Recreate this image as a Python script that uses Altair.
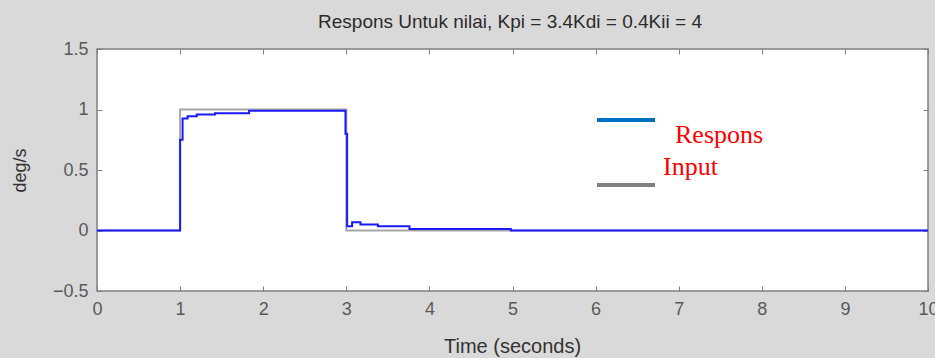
import altair as alt
import pandas as pd

# Data
resp_t = [0.0, 1.0, 1.03, 1.09, 1.2, 1.42, 1.83, 2.99, 3.01, 3.07, 3.17, 3.38, 3.76, 4.98, 10.0]
resp_y = [0.0, 0.75, 0.925, 0.945, 0.958, 0.97, 0.99, 0.8, 0.035, 0.068, 0.05, 0.035, 0.013, 0.0, 0.0]
inp_t = [0.0, 1.0, 3.0, 10.0]
inp_y = [0.0, 1.0, 0.0, 0.0]
x_ticks = [0, 1, 2, 3, 4, 5, 6, 7, 8, 9, 10]
y_ticks = [-0.5, 0, 0.5, 1, 1.5]
legend_labels = ["Respons", "Input"]
title_text = "Respons Untuk nilai, Kpi = 3.4Kdi = 0.4Kii = 4"

resp = pd.DataFrame({"t": resp_t, "y": resp_y})
inp = pd.DataFrame({"t": inp_t, "y": inp_y})
leg = pd.DataFrame({"label": legend_labels})
ttl = pd.DataFrame({"title": [title_text]})

FONT = "Liberation Sans"
xs = alt.Scale(domain=[0, 10], nice=False, zero=False)
ys = alt.Scale(domain=[-0.5, 1.5], nice=False, zero=False)

xaxis = alt.Axis(values=x_ticks, domain=False, grid=False, offset=-5, tickSize=5,
                 tickColor="#808080", labelPadding=9, labelFont=FONT, labelFontSize=18,
                 labelColor="#595959", title="Time (seconds)", titleFont=FONT,
                 titleFontSize=20, titleFontWeight="normal", titleColor="#333333",
                 titleX=415, titleY=66, titleBaseline="alphabetic", titleAlign="center",
                 labelFlush=False)
yaxis = alt.Axis(values=y_ticks, format="~g", domain=False, grid=False, offset=-5, tickSize=5,
                 tickColor="#808080", labelPadding=9, labelFont=FONT, labelFontSize=18,
                 labelColor="#595959", title="deg/s", titleFont=FONT, titleFontSize=18,
                 titleFontWeight="normal", titleColor="#333333", titleX=-82, titleY=121,
                 titleAlign="center", titleBaseline="middle", labelFlush=False)

inp_line = alt.Chart(inp).mark_line(interpolate="step-after", color="#a6a6a6", strokeWidth=2).encode(
    x=alt.X("t:Q", scale=xs, axis=xaxis),
    y=alt.Y("y:Q", scale=ys, axis=yaxis),
)

resp_line = alt.Chart(resp).mark_line(interpolate="step-after", color="#1a1aff", strokeWidth=2).encode(
    x=alt.X("t:Q", scale=xs, axis=None),
    y=alt.Y("y:Q", scale=ys, axis=None),
)

top_axes = alt.Chart(inp).mark_line(opacity=0).encode(
    x=alt.X("t:Q", scale=xs, axis=alt.Axis(orient="top", values=x_ticks, labels=False, title=None,
                                           domain=False, grid=False, offset=-5, tickSize=5,
                                           tickColor="#808080")),
    y=alt.Y("y:Q", scale=ys, axis=alt.Axis(orient="right", values=y_ticks, labels=False, title=None,
                                           domain=False, grid=False, offset=-5, tickSize=5,
                                           tickColor="#808080")),
)

one = alt.Data(values=[{}])
leg_blue = alt.Chart(one).mark_rule(color="#0070c0", strokeWidth=4).encode(
    x=alt.value(500), x2=alt.value(558), y=alt.value(71))
leg_grey = alt.Chart(one).mark_rule(color="#808080", strokeWidth=4).encode(
    x=alt.value(500), x2=alt.value(558), y=alt.value(136))

txt_resp = alt.Chart(leg).transform_filter(alt.datum.label == legend_labels[0]).mark_text(
    font="Liberation Serif", fontSize=26, color="#ff0000", align="left", baseline="alphabetic").encode(
    x=alt.value(578), y=alt.value(94), text="label:N")
txt_inp = alt.Chart(leg).transform_filter(alt.datum.label == legend_labels[1]).mark_text(
    font="Liberation Serif", fontSize=26, color="#ff0000", align="left", baseline="alphabetic").encode(
    x=alt.value(566), y=alt.value(126), text="label:N")

txt_title = alt.Chart(ttl).mark_text(
    font=FONT, fontSize=19, color="#2b2b2b", align="center", baseline="alphabetic").encode(
    x=alt.value(413), y=alt.value(-21), text="title:N")

chart = alt.layer(inp_line, resp_line, top_axes, leg_blue, leg_grey, txt_resp, txt_inp, txt_title).resolve_axis(
    x="independent", y="independent"
).properties(
    width=831, height=242,
    autosize=alt.AutoSizeParams(type="none"),
    padding={"left": 97, "top": 49, "right": 7, "bottom": 67},
    background="#d9d9d9",
).configure_view(stroke="#808080", strokeWidth=1.5, fill="white")

chart.save("out.html", embed_options={"renderer": "svg", "actions": False})
